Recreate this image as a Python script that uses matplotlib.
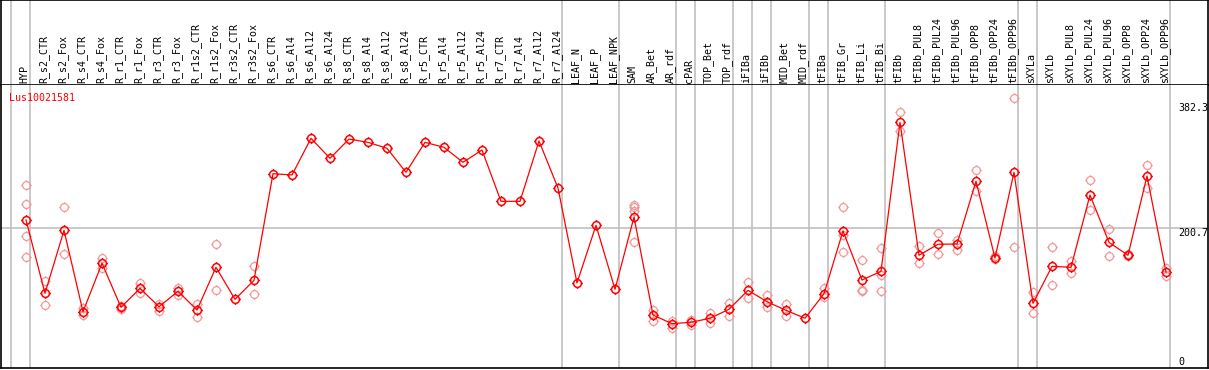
import matplotlib
matplotlib.use('Agg')
import matplotlib.pyplot as plt
from matplotlib.path import Path
import numpy as np

# sample names (x categories)
samples = ['HYP', 'R_s2_CTR', 'R_s2_Fox', 'R_s4_CTR', 'R_s4_Fox', 'R_r1_CTR', 'R_r1_Fox',
           'R_r3_CTR', 'R_r3_Fox', 'R_r1s2_CTR', 'R_r1s2_Fox', 'R_r3s2_CTR', 'R_r3s2_Fox',
           'R_s6_CTR', 'R_s6_Al4', 'R_s6_Al12', 'R_s6_Al24', 'R_s8_CTR', 'R_s8_Al4',
           'R_s8_Al12', 'R_s8_Al24', 'R_r5_CTR', 'R_r5_Al4', 'R_r5_Al12', 'R_r5_Al24',
           'R_r7_CTR', 'R_r7_Al4', 'R_r7_Al12', 'R_r7_Al24', 'LEAF_N', 'LEAF_P', 'LEAF_NPK',
           'SAM', 'AR_Bet', 'AR_rdf', 'cPAR', 'TOP_Bet', 'TOP_rdf', 'iFIBa', 'iFIBb',
           'MID_Bet', 'MID_rdf', 'tFIBa', 'tFIB_Gr', 'tFIB_Li', 'tFIB_Bi', 'tFIBb',
           'tFIBb_PUL8', 'tFIBb_PUL24', 'tFIBb_PUL96', 'tFIBb_OPP8', 'tFIBb_OPP24',
           'tFIBb_OPP96', 'sXYLa', 'sXYLb', 'sXYLb_PUL8', 'sXYLb_PUL24', 'sXYLb_PUL96',
           'sXYLb_OPP8', 'sXYLb_OPP24', 'sXYLb_OPP96']

# mean expression per sample
means = [212.7, 106.7, 197.8, 80.1, 150.1, 86.5, 113.9, 87.3, 109.6, 82.6, 144.3, 98.0, 125.5,
         279.6, 277.8, 330.8, 301.9, 329.7, 325.0, 316.4, 281.7, 325.0, 317.8, 296.1, 313.9,
         239.7, 239.7, 326.9, 259.0, 121.6, 205.0, 112.5,
         217.0, 75.3, 62.8, 64.8, 70.6, 83.6, 111.0, 94.6, 82.1, 70.6, 106.1, 196.8, 125.9,
         138.5, 354.0, 161.7, 177.6, 178.0, 268.7, 157.7, 281.7, 92.2, 145.7, 144.3, 248.8,
         180.4, 161.7, 276.3, 137.5]

# individual replicates per sample
reps = [[263, 236, 190, 159], [124, 90], [231, 164], [85, 75], [158, 144], [88, 84],
        [121, 107], [91, 81], [115, 104], [91, 73], [178, 112], [], [146, 105],
        [], [], [], [], [], [], [], [], [], [], [], [], [], [], [], [], [], [], [],
        [235, 232, 225, 181], [83, 66], [67, 56], [68, 61], [78, 64], [92, 74], [123, 100],
        [104, 87], [91, 74], [], [115, 101], [231, 191, 166], [155, 112, 110],
        [172, 133, 110], [369, 342], [175, 150], [194, 163], [184, 170], [285, 254],
        [160, 156], [389, 173], [108, 78], [173, 118], [153, 136], [271, 227], [200, 161],
        [163, 160], [292, 259], [143, 132]]

# separators are drawn right after these columns
group_ends = [-1, 0, 28, 31, 34, 35, 37, 38, 39, 41, 42, 45, 52, 53, 60]

y_labels = [382.3, 200.7, 0]
gene = 'Lus10021581'

W, H = 1209, 370
fig = plt.figure(figsize=(W / 100, H / 100), dpi=100)
font = dict(family='DejaVu Sans Mono', size=7.2)

# circle marker with four small ticks
circ = Path.unit_circle()
ticks = Path([(0, 1), (0, 1.35), (0, -1), (0, -1.35), (1, 0), (1.35, 0), (-1, 0), (-1.35, 0)],
             [Path.MOVETO, Path.LINETO] * 4)
gear = Path.make_compound_path(circ, ticks)

x = np.arange(len(samples))
xlim = (-25 / 19, 1182 / 19)

# header axes with rotated sample names
hax = fig.add_axes([1 / W, (H - 85) / H, 1207 / W, 85 / H])
hax.set_xlim(xlim)
hax.set_ylim(0, 1)
hax.set_xticks([])
hax.set_yticks([])
for s in hax.spines.values():
    s.set_color('black')
    s.set_linewidth(1.2)
for i, name in enumerate(samples):
    hax.text(i - 0.08, 0.02, name, rotation=90, ha='center', va='bottom', **font)

# plot axes
ax = fig.add_axes([1 / W, 2 / H, 1207 / W, 283 / H])
ax.set_xlim(xlim)
ax.set_ylim(-1.3, 407.9)
ax.set_xticks([])
ax.set_yticks([])
for s in ax.spines.values():
    s.set_color('black')
    s.set_linewidth(1.2)
ax.spines['top'].set_visible(False)

for g in group_ends:
    hax.axvline(g + 0.226, color='#c0c0c0', lw=1.2, zorder=0)
    ax.axvline(g + 0.226, color='#c0c0c0', lw=1.2, zorder=0)
ax.axhline(200.7, color='#c0c0c0', lw=1.2, zorder=0)

rx = [i for i, r in enumerate(reps) for _ in r]
ry = [v for r in reps for v in r]
ax.plot(rx, ry, ls='none', marker=gear, ms=7.6, mfc='none', mec='#f09a9a', mew=0.9, zorder=2)
ax.plot(x, means, color='red', lw=0.9, marker=gear, ms=7.6, mfc='none', mec='red',
        mew=1.1, zorder=3)

lx = (1178.7 - 26) / 19
ax.text(lx, y_labels[0], '382.3', ha='left', va='top', clip_on=False, **font)
ax.text(lx, y_labels[1], '200.7', ha='left', va='top', **font)
ax.text(lx, y_labels[2], '0', ha='left', va='bottom', **font)
ax.text(0.007, 0.955, gene, transform=ax.transAxes, color='red', ha='left', va='center', **font)

fig.savefig('out.png', dpi=100)
